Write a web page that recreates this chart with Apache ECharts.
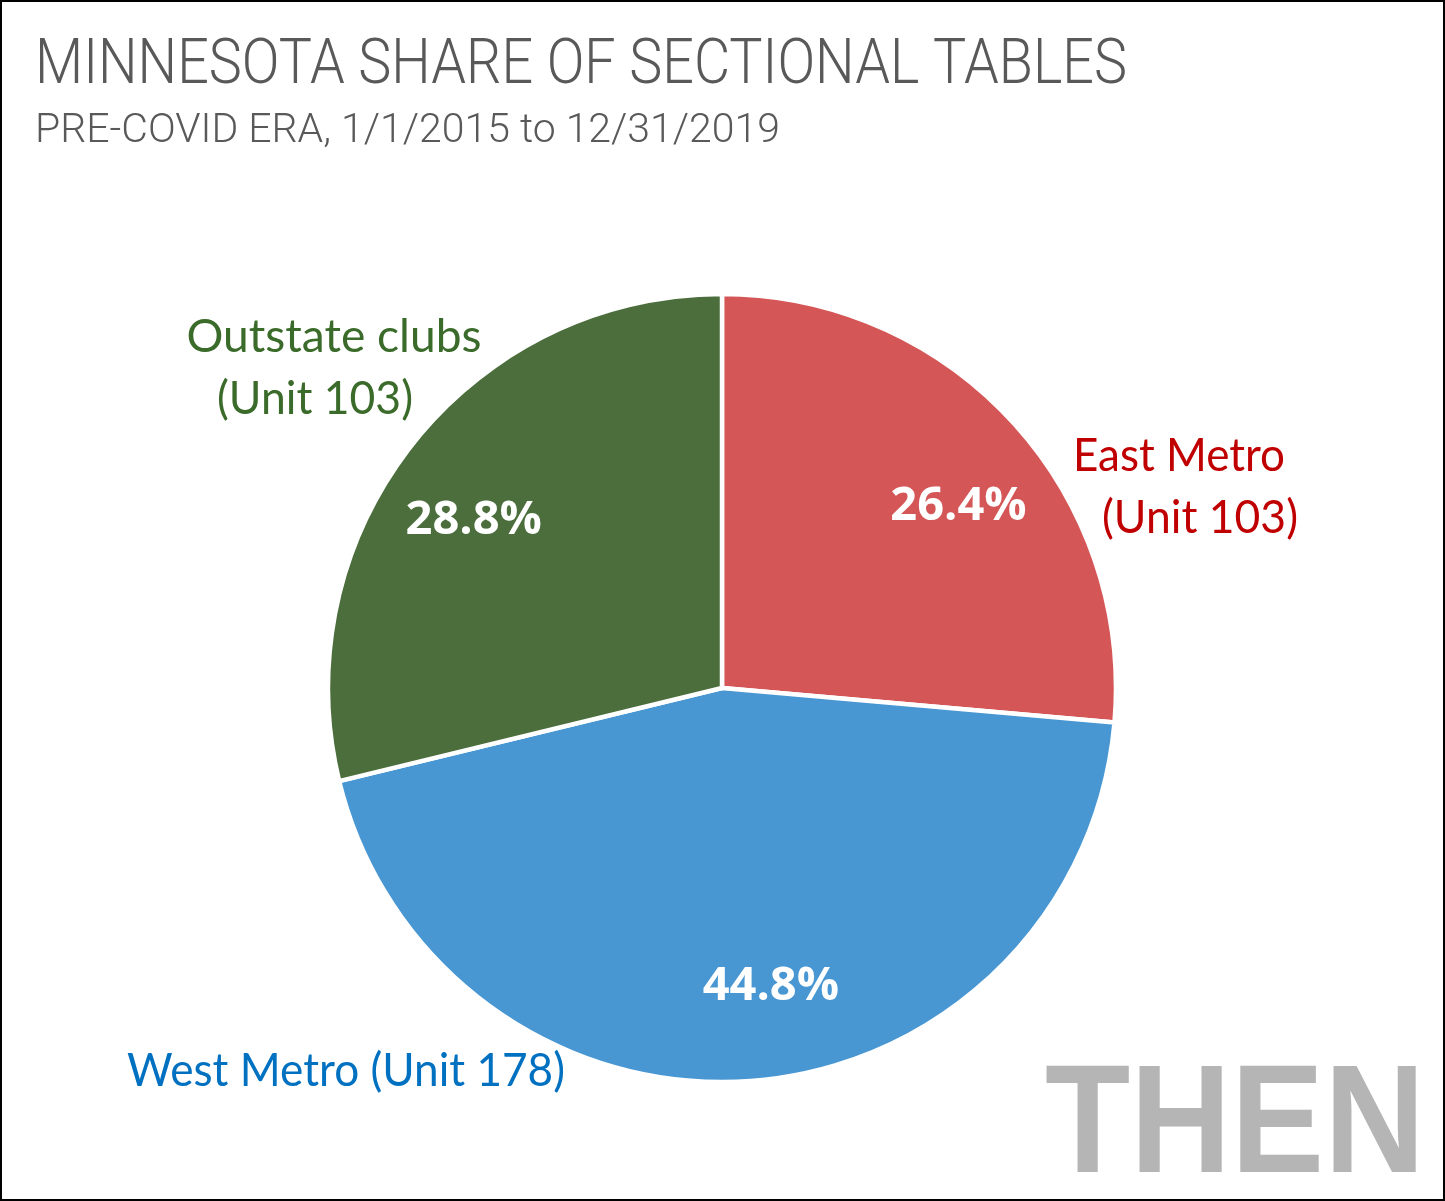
<!DOCTYPE html>
<html>
<head>
<meta charset="utf-8">
<script src="https://cdn.jsdelivr.net/npm/echarts@6/dist/echarts.min.js"></script>
<style>
  html, body { margin: 0; padding: 0; background: #fff; }
  #chart { width: 1445px; height: 1201px; box-sizing: border-box; border: 2px solid #000; }
</style>
</head>
<body>
<div id="chart"></div>
<script>
// data
var regions = ['East Metro (Unit 103)', 'West Metro (Unit 178)', 'Outstate clubs (Unit 103)'];
var shares = [26.4, 44.8, 28.8];
var sliceColors = ['#d55656', '#4897d3', '#4b6e3c'];
var nameColors = ['#c00000', '#0070c0', '#3b6b2a'];
var nameLines = [['East Metro', '(Unit 103)'], ['West Metro (Unit 178)'], ['Outstate clubs', '(Unit 103)']];

var titleText = 'MINNESOTA SHARE OF SECTIONAL TABLES';
var subtitleText = 'PRE-COVID ERA, 1/1/2015 to 12/31/2019';

var ctx = document.createElement('canvas').getContext('2d');
function fit(text, font, width) {
	ctx.font = font;
	return width / ctx.measureText(text).width;
}

var titleFont = '300 63px Roboto, "Liberation Sans", sans-serif';
var subFont = '300 40px Roboto, "Liberation Sans", sans-serif';
var nameFont = '46px Lato, "Open Sans", sans-serif';
var thenFont = 'bold 154px "Liberation Sans", Arial, sans-serif';

// where each name line sits: [centre x, middle y, width]  (chart coords, 2px border)
var namePos = [
	[[1177, 454, 212], [1198, 516, 196]],
	[[344, 1069, 438]],
	[[332, 335, 295], [313, 397, 196]]
];
// nudges so the percent labels land where the picture has them
var pctOffsets = [[13, 23], [26, -4], [-10, 20]];

var graphics = [
	{ type: 'text', x: 33, y: 65, scaleX: fit(titleText, titleFont, 1092),
	  style: { text: titleText, font: titleFont, fill: '#595959', textVerticalAlign: 'middle' } },
	{ type: 'text', x: 33, y: 130, scaleX: fit(subtitleText, subFont, 745),
	  style: { text: subtitleText, font: subFont, fill: '#595959', textVerticalAlign: 'middle' } },
	{ type: 'text', x: 1043, y: 1128, scaleX: fit('THEN', thenFont, 380),
	  style: { text: 'THEN', font: thenFont, fill: '#b5b5b5', textVerticalAlign: 'middle' } }
];
for (var i = 0; i < nameLines.length; i++) {
	for (var j = 0; j < nameLines[i].length; j++) {
		var p = namePos[i][j];
		graphics.push({
			type: 'text', x: p[0], y: p[1], scaleX: fit(nameLines[i][j], nameFont, p[2]),
			style: { text: nameLines[i][j], font: nameFont, fill: nameColors[i], textAlign: 'center', textVerticalAlign: 'middle' }
		});
	}
}

var pieData = [];
var labelData = [];
for (var k = 0; k < regions.length; k++) {
	pieData.push({ name: regions[k], value: shares[k], itemStyle: { color: sliceColors[k] } });
	labelData.push({ name: regions[k], value: shares[k], label: { offset: pctOffsets[k] } });
}

var option = {
	animation: false,
	backgroundColor: '#fff',
	graphic: graphics,
	series: [
		{
			type: 'pie',
			center: [720, 686],
			radius: [0, 394],
			startAngle: 90,
			clockwise: true,
			silent: true,
			itemStyle: { borderColor: '#fff', borderWidth: 4.5 },
			label: { show: false },
			labelLine: { show: false },
			data: pieData
		},
		{
			// ring only used to put the percent labels at ~3/4 radius
			type: 'pie',
			center: [720, 686],
			radius: [206, 394],
			startAngle: 90,
			clockwise: true,
			silent: true,
			itemStyle: { color: 'rgba(0,0,0,0)' },
			label: {
				show: true,
				position: 'inside',
				formatter: function (p) { return p.value.toFixed(1) + '%'; },
				color: '#fff',
				fontFamily: '"Open Sans", sans-serif',
				fontWeight: 'bold',
				fontSize: 47
			},
			labelLine: { show: false },
			data: labelData
		}
	]
};

var chart = echarts.init(document.getElementById('chart'));
chart.setOption(option);
</script>
</body>
</html>
